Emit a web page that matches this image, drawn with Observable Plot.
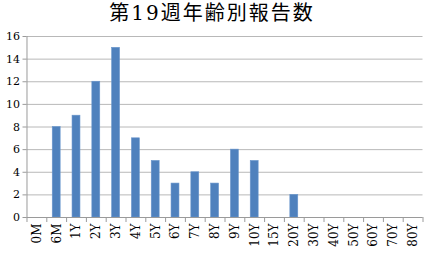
<!DOCTYPE html>
<html><head><meta charset="utf-8">
<script src="https://cdn.jsdelivr.net/npm/d3@7"></script>
<script src="https://cdn.jsdelivr.net/npm/@observablehq/plot@0.6"></script>
<style>
html,body{margin:0;padding:0;background:#fff;}
#title{width:424px;height:28px;text-align:center;font-family:"DejaVu Serif","Noto Sans CJK JP",serif;font-size:20px;line-height:26px;letter-spacing:2px;color:#000;}
svg{display:block;}
svg text{font-family:"DejaVu Serif",serif !important;}
</style></head>
<body>
<div id="title">第19週年齢別報告数</div>
<div id="chart"></div>
<script>
const ageGroups = ["0M","6M","1Y","2Y","3Y","4Y","5Y","6Y","7Y","8Y","9Y","10Y","15Y","20Y","30Y","40Y","50Y","60Y","70Y","80Y"];
const reports = [0,8,9,12,15,7,5,3,4,3,6,5,0,2,0,0,0,0,0,0];
const yTicks = [0,2,4,6,8,10,12,14,16];

const data = ageGroups.map((a,i)=>({age:a, count:reports[i]}));
const W = 424, H = 226, ML = 26.5, MR = 1.5, MT = 8, MB = 37;
const step = (W - ML - MR) / ageGroups.length;

const chart = Plot.plot({
  width: W, height: H,
  marginLeft: ML, marginRight: MR, marginTop: MT, marginBottom: MB,
  style: {fontSize: "11px", color: "#000", background: "#fff"},
  x: {type: "band", domain: ageGroups, paddingInner: 0.6, paddingOuter: 0.3, round: false, axis: null},
  y: {type: "linear", domain: [0,16], axis: null},
  marks: [
    Plot.gridY(yTicks, {stroke: "#b8b8b8", strokeOpacity: 1}),
    Plot.barY(data, {x: "age", y: "count", fill: "#4f81bd", stroke: "#6a96cc", strokeWidth: 0.6}),
    Plot.ruleY([0], {stroke: "#9a9a9a"}),
    Plot.ruleX([ageGroups[0]], {x: d=>d, dx: -step/2, stroke: "#9a9a9a", y1: 0, y2: 16}),
    Plot.axisY(yTicks, {tickSize: 4, tickPadding: 3, stroke: "#9a9a9a", fontSize: 11, label: null}),
    Plot.ruleX(ageGroups, {x: d=>d, dx: -step/2, y1: 0, y2: 0, insetBottom: -5, stroke: "#9a9a9a"}),
    Plot.ruleX([ageGroups[ageGroups.length-1]], {x: d=>d, dx: step/2, y1: 0, y2: 0, insetBottom: -5, stroke: "#9a9a9a"}),
    Plot.axisX(ageGroups, {tickSize: 0, tickPadding: 6, tickRotate: -90, fontSize: 12, label: null})
  ]
});
document.getElementById("chart").appendChild(chart);
</script>
</body></html>
